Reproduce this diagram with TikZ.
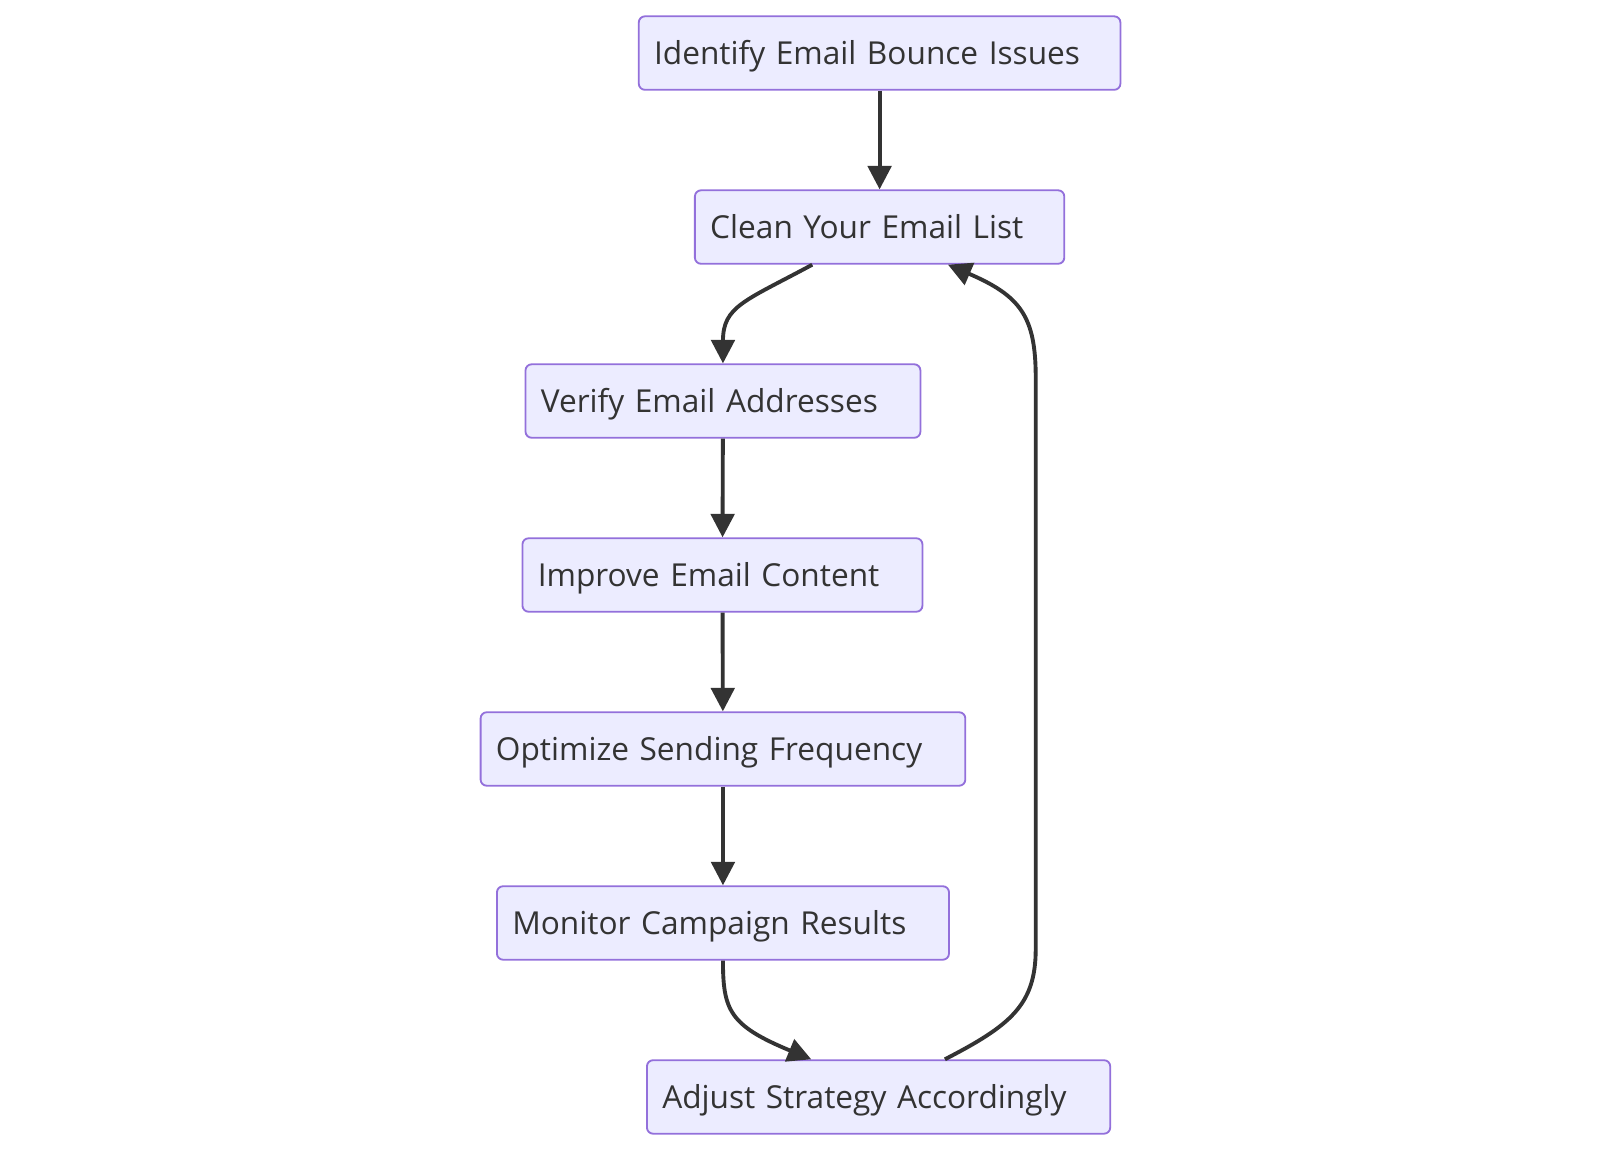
\documentclass[tikz,border=0pt]{standalone}
\usepackage{fontspec}
\setmainfont{Open Sans}
\usepackage{xcolor}
\usetikzlibrary{arrows.meta}
\definecolor{boxfill}{HTML}{ECECFF}
\definecolor{boxline}{HTML}{9370DB}
\definecolor{ink}{HTML}{333333}

\begin{document}
\begin{tikzpicture}[x=1pt, y=-1pt,
    flowbox/.style={draw=boxline, fill=boxfill, line width=1.8pt, rounded corners=6pt,
        minimum height=72pt, inner xsep=15pt, inner ysep=0pt, text height=22pt, text depth=0pt,
        align=left, text=ink, font=\fontsize{31}{37}\selectfont},
    flowline/.style={draw=ink, line width=3.8pt, -{Triangle[length=23pt, width=23pt]}}]
    \useasboundingbox (0, 0) rectangle (1568, 1127);
    \node[flowbox, text width=442pt] (identify) at (862, 52) {Identify Email Bounce Issues};
    \node[flowbox, text width=332pt] (clean) at (862, 222.5) {Clean Your Email List};
    \node[flowbox, text width=357pt] (verify) at (708.5, 393) {Verify Email Addresses};
    \node[flowbox, text width=362pt] (improve) at (708, 563.5) {Improve Email Content};
    \node[flowbox, text width=445pt] (optimize) at (708.5, 734) {Optimize Sending Frequency};
    \node[flowbox, text width=413pt] (monitor) at (708.5, 904.5) {Monitor Campaign Results};
    \node[flowbox, text width=424pt] (adjust) at (861, 1075) {Adjust Strategy Accordingly};
    \draw[flowline] (identify) -- (clean);
    \draw[flowline] ([xshift=-66pt]clean.south) .. controls (730, 295) and (708.5, 300) .. (verify.north);
    \draw[flowline] (verify) -- (improve);
    \draw[flowline] (improve) -- (optimize);
    \draw[flowline] (optimize) -- (monitor);
    \draw[flowline] (monitor.south) .. controls (708.5, 990) and (715, 1005) .. ([xshift=-66pt]adjust.north);
    % loop back on the right
    \draw[flowline] ([xshift=65pt]adjust.north) .. controls (990, 1005) and (1015, 985) .. (1015, 930)
        -- (1015, 370) .. controls (1015, 310) and (1000, 290) .. ([xshift=67pt]clean.south);
\end{tikzpicture}
\end{document}
